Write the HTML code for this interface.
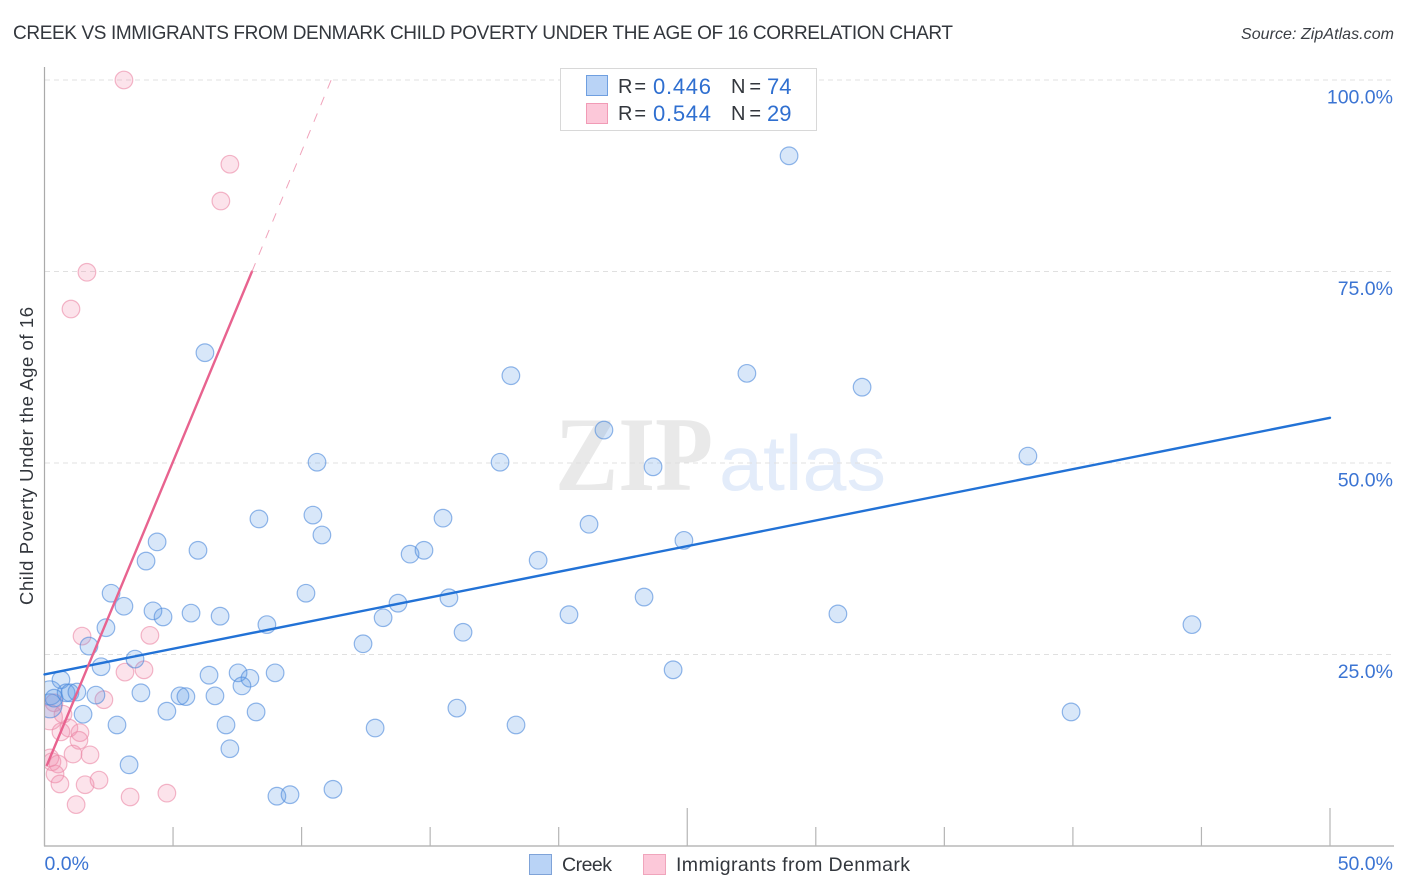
<!DOCTYPE html>
<html lang="en">
<head>
<meta charset="utf-8">
<title>Creek vs Immigrants from Denmark Child Poverty Correlation Chart</title>
<style>
html,body{margin:0;padding:0;background:#fff;}
svg{display:block;font-family:"Liberation Sans",sans-serif;}
</style>
</head>
<body>
<svg id="chart" width="1406" height="892" viewBox="0 0 1406 892" xmlns="http://www.w3.org/2000/svg">
  <defs>
    <clipPath id="plot-clip"><rect x="45" y="60" width="1349" height="786"></rect></clipPath>
  </defs>
  <rect width="1406" height="892" fill="#ffffff"></rect>
  <text x="13" y="39" font-size="19" fill="#33373d" textLength="940" lengthAdjust="spacing">CREEK VS IMMIGRANTS FROM DENMARK CHILD POVERTY UNDER THE AGE OF 16 CORRELATION CHART</text>
  <text x="1394" y="39" font-size="16" font-style="italic" fill="#3a3e44" text-anchor="end" textLength="153" lengthAdjust="spacing">Source: ZipAtlas.com</text>
  <text x="555" y="490" font-family="'Liberation Serif',serif" font-weight="bold" font-size="106" fill="#e9e9e9" textLength="158" lengthAdjust="spacingAndGlyphs">ZIP</text>
  <text x="719" y="490" font-size="78" fill="#e3ecfa" textLength="167" lengthAdjust="spacingAndGlyphs">atlas</text>
  <g id="grid"></g>
  <g id="axes"></g>
  <g id="points" clip-path="url(#plot-clip)"></g>
  <g id="trends"></g>
  <g id="tick-labels"></g>
  <text transform="translate(33,456) rotate(-90)" font-size="18.5" fill="#33373d" text-anchor="middle" textLength="298" lengthAdjust="spacing">Child Poverty Under the Age of 16</text>

  <g>
    <rect x="560.5" y="68.5" width="256" height="62" fill="#ffffff" stroke="#d8d8d8" stroke-width="1"></rect>
    <rect x="586.5" y="75.5" width="21" height="20" fill="#b9d3f6" stroke="#6f9fe0" stroke-width="1"></rect>
    <rect x="586.5" y="103.5" width="21" height="20" fill="#fcc8d9" stroke="#f19bb6" stroke-width="1"></rect>
    <text x="618" y="93" font-size="20" fill="#33373d" textLength="28" lengthAdjust="spacing">R =</text>
    <text x="653" y="94" font-size="22" fill="#2f6fd0" textLength="58" lengthAdjust="spacing">0.446</text>
    <text x="731" y="93" font-size="20" fill="#33373d" textLength="30" lengthAdjust="spacing">N =</text>
    <text x="767" y="94" font-size="22" fill="#2f6fd0">74</text>
    <text x="618" y="120" font-size="20" fill="#33373d" textLength="28" lengthAdjust="spacing">R =</text>
    <text x="653" y="121" font-size="22" fill="#2f6fd0" textLength="58" lengthAdjust="spacing">0.544</text>
    <text x="731" y="120" font-size="20" fill="#33373d" textLength="30" lengthAdjust="spacing">N =</text>
    <text x="767" y="121" font-size="22" fill="#2f6fd0">29</text>
  </g>

  <g>
    <rect x="529.5" y="854.5" width="22" height="20" fill="#b9d3f6" stroke="#7fa3d8" stroke-width="1"></rect>
    <text x="562" y="871" font-size="19.5" fill="#33373d" textLength="50" lengthAdjust="spacing">Creek</text>
    <rect x="643.5" y="854.5" width="22" height="20" fill="#fcc8d9" stroke="#f0a5bc" stroke-width="1"></rect>
    <text x="676" y="871" font-size="19.5" fill="#33373d" textLength="234" lengthAdjust="spacing">Immigrants from Denmark</text>
  </g>
</svg>

<script>
const creekX = [6.24,28.96,18.14,27.32,31.8,21.76,17.72,10.6,23.67,38.25,8.34,10.44,15.5,10.79,21.18,4.38,5.97,14.22,14.76,3.95,19.2,24.87,2.59,10.17,15.73,23.32,3.09,4.22,4.61,5.7,6.83,13.17,13.75,20.4,30.86,44.63,8.65,2.39,16.28,1.73,12.39,3.52,2.2,6.4,7.53,7.99,8.97,7.68,24.45,0.64,3.75,5.27,5.5,6.63,2.0,0.84,0.99,1.26,1.5,4.76,8.23,7.06,2.82,16.04,18.34,39.93,12.86,7.21,3.29,9.04,9.55,11.22,0.37];
const creekY = [64.4,90.1,61.4,61.7,59.9,54.3,50.1,50.1,49.5,50.9,42.7,43.2,42.8,40.6,42.0,39.7,38.6,38.1,38.6,37.2,37.3,39.9,33.0,33.0,32.4,32.5,31.3,30.7,29.9,30.4,30.0,29.8,31.7,30.2,30.3,28.9,28.9,28.5,27.9,26.1,26.4,24.4,23.4,22.3,22.6,21.9,22.6,20.9,23.0,21.7,20.0,19.6,19.5,19.6,19.7,20.0,20.0,20.1,17.2,17.6,17.5,15.8,15.8,18.0,15.8,17.5,15.4,12.7,10.6,6.5,6.7,7.4,19.3];
const creekLargeX = [0.21,0.21];
const creekLargeY = [20.0,18.3];
const denmarkX = [3.09,7.21,6.86,1.65,1.03,1.46,4.1,3.13,3.87,2.31,0.72,0.95,0.64,1.38,1.34,1.11,1.77,0.21,0.29,0.53,0.41,0.6,2.12,1.58,1.23,3.33,4.76,0.37];
const denmarkY = [100,89.0,84.2,74.9,70.1,27.4,27.5,22.7,23.0,19.1,17.2,15.4,14.9,14.8,13.8,12.0,11.9,11.5,11.0,10.7,9.4,8.1,8.6,8.0,5.4,6.4,6.9,18.7];
const denmarkLargeX = [0.21];
const denmarkLargeY = [16.8];
const creekTrendX = [0,50];
const creekTrendY = [22.4,55.9];
const denmarkTrendX = [0.1,8.07];
const denmarkTrendY = [10.6,75];
const denmarkTrendExtX = [8.07,11.15];
const denmarkTrendExtY = [75,100];
const yTickValues = [25,50,75,100];
const yTickLabels = ["25.0%","50.0%","75.0%","100.0%"];
const xTickValues = [0,5,10,15,20,25,30,35,40,45,50];
const xMajorTicks = [0,25,50];
const xEndValues = [0,50];
const xEndLabels = ["0.0%","50.0%"];

const NS = "http://www.w3.org/2000/svg";
const xScale = v => 44.5 + v * (1330 - 44.5) / 50;
const yScale = v => 846 - v * (846 - 80) / 100;

function make(tag, attrs, parent) {
  const el = document.createElementNS(NS, tag);
  Object.keys(attrs).forEach(k => el.setAttribute(k, attrs[k]));
  parent.appendChild(el);
  return el;
}

const gridG = document.getElementById("grid");
const axesG = document.getElementById("axes");
const pointsG = document.getElementById("points");
const trendsG = document.getElementById("trends");
const labelsG = document.getElementById("tick-labels");

yTickValues.forEach(function (v, i) {
  const line = make("line", {x1: 45, x2: 1394, y1: yScale(v), y2: yScale(v), stroke: "#e0e0e0", "stroke-width": 1, "stroke-dasharray": "5 4"}, gridG);
  
  
  const label = make("text", {x: 1393, y: yScale(v) + 23.5, "font-size": 19.5, fill: "#3b74d3", "text-anchor": "end"}, labelsG);
  label.textContent = yTickLabels[i];
  
  
});

const yAxis = make("line", {x1: 44.5, x2: 44.5, y1: 67, y2: 846.5, stroke: "#aaaaaa", "stroke-width": 1.2}, axesG);


const xAxis = make("line", {x1: 44, x2: 1394, y1: 846, y2: 846, stroke: "#aaaaaa", "stroke-width": 1.2}, axesG);



xTickValues.forEach(function (v) {
  const top = xMajorTicks.indexOf(v) >= 0 ? 808 : 827;
  const tick = make("line", {x1: xScale(v), x2: xScale(v), y1: top, y2: 846, stroke: "#b5b5b5", "stroke-width": 1.2}, axesG);
  
  
});

xEndValues.forEach(function (v, i) {
  const first = i === 0;
  const label = make("text", {x: first ? xScale(v) : 1393, y: 870, "font-size": 19.5, fill: "#3b74d3", "text-anchor": first ? "start" : "end"}, labelsG);
  label.textContent = xEndLabels[i];
  
  
});

function drawPoints(xs, ys, radius, fill, stroke, name) {
  xs.forEach(function (x, i) {
    const c = make("circle", {cx: xScale(x), cy: yScale(ys[i]), r: radius, fill: fill, "fill-opacity": 0.24, stroke: stroke, "stroke-opacity": 0.62, "stroke-width": 1.2}, pointsG);
    
    
  });
}

drawPoints(denmarkLargeX, denmarkLargeY, 12.5, "#f48aaa", "#ec8aa8", "point-denmark");
drawPoints(denmarkX, denmarkY, 8.8, "#f48aaa", "#ec8aa8", "point-denmark");
drawPoints(creekLargeX, creekLargeY, 12, "#5d9be8", "#4f8bdc", "point-creek");
drawPoints(creekX, creekY, 8.8, "#5d9be8", "#4f8bdc", "point-creek");

const creekTrend = make("line", {x1: xScale(creekTrendX[0]), y1: yScale(creekTrendY[0]), x2: xScale(creekTrendX[1]), y2: yScale(creekTrendY[1]), stroke: "#2272d6", "stroke-width": 2.4, "stroke-linecap": "round"}, trendsG);


const denmarkTrend = make("line", {x1: xScale(denmarkTrendX[0]), y1: yScale(denmarkTrendY[0]), x2: xScale(denmarkTrendX[1]), y2: yScale(denmarkTrendY[1]), stroke: "#e8638f", "stroke-width": 2.4, "stroke-linecap": "round"}, trendsG);


const denmarkExt = make("line", {x1: xScale(denmarkTrendExtX[0]), y1: yScale(denmarkTrendExtY[0]), x2: xScale(denmarkTrendExtX[1]), y2: yScale(denmarkTrendExtY[1]), stroke: "#f0a3bb", "stroke-width": 1, "stroke-dasharray": "9 9"}, trendsG);


</script>
</body>
</html>
